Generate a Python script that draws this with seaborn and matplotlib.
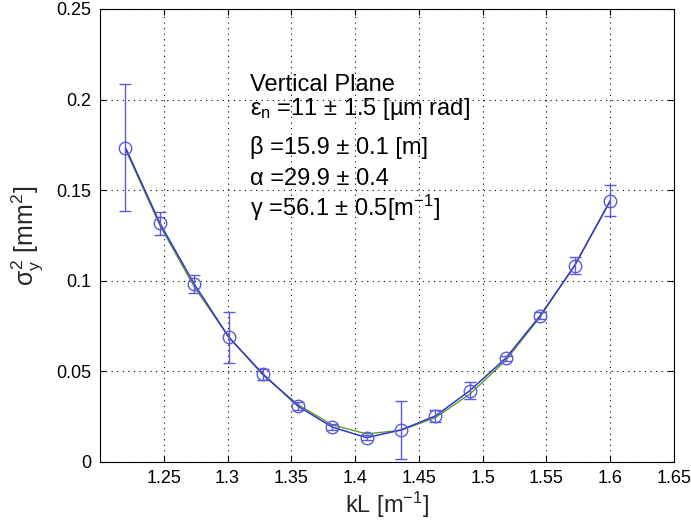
import numpy as np
import pandas as pd
import matplotlib
matplotlib.use("Agg")
import matplotlib.pyplot as plt
import seaborn as sns

# measured points (quad strength kL vs beam size squared)
kl = [1.220, 1.247, 1.274, 1.301, 1.328, 1.355, 1.382, 1.409,
      1.436, 1.463, 1.490, 1.518, 1.545, 1.572, 1.600]
sigma2 = [0.1735, 0.1317, 0.0981, 0.0688, 0.0484, 0.0309, 0.0193, 0.0134,
          0.0177, 0.0254, 0.0394, 0.0572, 0.0807, 0.1082, 0.1442]
err = [0.0352, 0.0064, 0.0049, 0.0142, 0.0029, 0.0020, 0.0015, 0.0015,
       0.0160, 0.0035, 0.0049, 0.0015, 0.0020, 0.0047, 0.0084]
# fitted curve, sampled at the same kL values
fit = [0.1725, 0.1305, 0.0965, 0.0690, 0.0478, 0.0318, 0.0205, 0.0155,
       0.0175, 0.0245, 0.0375, 0.0560, 0.0800, 0.1085, 0.1440]

df = pd.DataFrame({"kL": kl, "sigma2": sigma2, "err": err, "fit": fit})

sns.set_style("white")
plt.rcParams["font.family"] = ["Liberation Sans", "DejaVu Sans"]
plt.rcParams["mathtext.fontset"] = "custom"
plt.rcParams["mathtext.rm"] = "Liberation Sans"
plt.rcParams["mathtext.it"] = "Liberation Sans"
plt.rcParams["mathtext.sf"] = "Liberation Sans"

fig = plt.figure(figsize=(6.91, 5.26), dpi=100)
ax = fig.add_axes([0.1447, 0.1217, 0.8307, 0.8612])

sns.lineplot(data=df, x="kL", y="fit", color="#5aa02c", lw=1.0, ax=ax)
sns.lineplot(data=df, x="kL", y="sigma2", color="#3434c8", lw=1.1, ax=ax)
ax.errorbar(df["kL"], df["sigma2"], yerr=df["err"], fmt="o", ms=9,
            mfc="none", mec="#5b5be0", mew=1.0, ecolor="#5b5be0",
            elinewidth=1.0, capsize=4, capthick=1.0, zorder=3)

ax.set_xlim(1.2, 1.65)
ax.set_ylim(0, 0.25)
ax.set_xticks([1.25, 1.3, 1.35, 1.4, 1.45, 1.5, 1.55, 1.6, 1.65])
ax.set_xticklabels(["1.25", "1.3", "1.35", "1.4", "1.45", "1.5", "1.55", "1.6", "1.65"])
ax.set_yticks([0, 0.05, 0.1, 0.15, 0.2, 0.25])
ax.set_yticklabels(["0", "0.05", "0.1", "0.15", "0.2", "0.25"])
ax.grid(True, ls=(0, (1, 4)), color="black", lw=0.8)
ax.tick_params(direction="in", length=4, labelsize=13, colors="black",
               top=True, right=True, bottom=True, left=True, pad=6)
for s in ax.spines.values():
    s.set_color("black")
    s.set_linewidth(0.8)

ax.set_xlabel(r"kL [m$^{-1}$]", fontsize=17, labelpad=2)
ax.set_ylabel(r"$\sigma_y^2$ [mm$^2$]", fontsize=18, labelpad=8)

txt = dict(fontsize=17, color="black", transform=ax.transData, va="baseline")
x0 = 1.3175
ax.text(x0, 0.2045, "Vertical Plane", **txt)
ax.text(x0, 0.1915, r"$\varepsilon_n$ =11 ± 1.5 [µm rad]", **txt)
ax.text(x0, 0.1700, "β =15.9 ± 0.1 [m]", **txt)
ax.text(x0, 0.1530, "α =29.9 ± 0.4", **txt)
ax.text(x0, 0.1360, r"γ =56.1 ± 0.5[m$^{-1}$]", **txt)

fig.savefig("out.png", dpi=100)
